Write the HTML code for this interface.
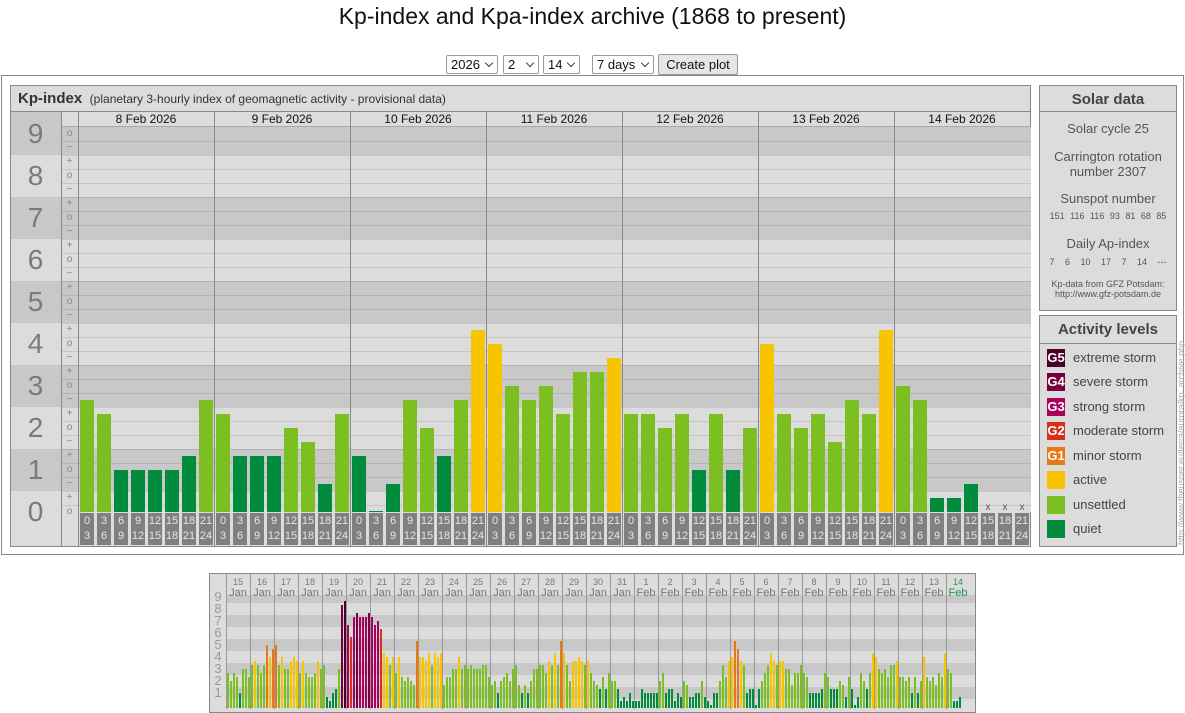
<!DOCTYPE html>
<html><head><meta charset="utf-8">
<style>
*{margin:0;padding:0;box-sizing:border-box}
body{width:1185px;height:709px;background:#fff;position:relative;overflow:hidden;font-family:"Liberation Sans",sans-serif;color:#222}
.a{position:absolute}
.sel{position:absolute;top:55px;height:19px;border:1px solid #999;border-radius:2px;background:#fff;font-size:13px;line-height:17px;padding-left:4px;color:#111}
.sel:after{content:"";position:absolute;right:5px;top:4px;width:5px;height:5px;border-right:1px solid #444;border-bottom:1px solid #444;transform:rotate(45deg)}
.lbl{position:absolute;width:15px;font-size:10px;color:#888;text-align:center;line-height:10px}
.big{position:absolute;left:10px;width:51px;text-align:center;font-size:28px;color:#7a7a7a;line-height:28px}
.tb{position:absolute;top:513px;width:14px;height:32px;background:#808080;color:#e6e6e6;font-size:11px;line-height:15px;text-align:center;padding-top:1px}
.date{position:absolute;top:112px;width:136px;text-align:center;font-size:12px;line-height:14px;color:#111}
.pt{position:absolute;left:1040px;width:136px;text-align:center;color:#555;font-size:13px}
.leg{position:absolute;left:1047px;width:18px;height:18px;color:#fff;font-size:13px;font-weight:bold;line-height:18px;text-align:center}
.lt{position:absolute;left:1073px;font-size:13px;color:#444;line-height:18px}
.md{position:absolute;top:576px;width:24px;text-align:center;color:#777;line-height:10px}
.mn{position:absolute;left:211px;width:14px;text-align:center;font-size:13px;color:#999;line-height:12px}
</style></head><body>
<div class="a" style="left:0;top:3px;width:1185px;text-align:center;font-size:23px;color:#111">Kp-index and Kpa-index archive (1868 to present)</div>
<div class="sel" style="left:446px;width:52px">2026</div>
<div class="sel" style="left:503px;width:36px">2</div>
<div class="sel" style="left:543px;width:37px">14</div>
<div class="sel" style="left:592px;width:62px">7 days</div>
<div class="a" style="left:658px;top:54px;width:80px;height:21px;border:1px solid #999;border-radius:2px;background:#e6e6e6;font-size:13px;line-height:19px;text-align:center;color:#111">Create plot</div>

<div class="a" style="left:1px;top:75px;width:1183px;height:480px;border:1px solid #888"></div>
<div id="main" class="a" style="left:10px;top:85px;width:1021px;height:462px;border:1px solid #888;background:#dcdcdc"></div>
<div id="plot"></div>
<div class="a" style="left:10px;top:111px;width:1021px;height:1px;background:#888"></div>
<div class="a" style="left:18px;top:90px;font-size:15px;font-weight:bold;color:#333">Kp-index <span style="font-weight:normal;font-size:12px;color:#333">&nbsp;(planetary 3-hourly index of geomagnetic activity - provisional data)</span></div>
<div class="a" style="left:61px;top:112px;width:1px;height:434px;background:#888"></div>
<div class="a" style="left:78px;top:112px;width:1px;height:434px;background:#888"></div>

<div class="date" style="left:78px">8 Feb 2026</div>
<div class="date" style="left:214px">9 Feb 2026</div>
<div class="date" style="left:350px">10 Feb 2026</div>
<div class="date" style="left:486px">11 Feb 2026</div>
<div class="date" style="left:622px">12 Feb 2026</div>
<div class="date" style="left:758px">13 Feb 2026</div>
<div class="date" style="left:894px">14 Feb 2026</div>

<div class="big" style="top:120px">9</div>
<div class="big" style="top:162px">8</div>
<div class="big" style="top:204px">7</div>
<div class="big" style="top:246px">6</div>
<div class="big" style="top:288px">5</div>
<div class="big" style="top:330px">4</div>
<div class="big" style="top:372px">3</div>
<div class="big" style="top:414px">2</div>
<div class="big" style="top:456px">1</div>
<div class="big" style="top:498px">0</div>

<div id="subs">
<div class="lbl" style="left:62px;top:129px">o</div><div class="lbl" style="left:62px;top:143px">−</div>
<div class="lbl" style="left:62px;top:157px">+</div><div class="lbl" style="left:62px;top:171px">o</div><div class="lbl" style="left:62px;top:185px">−</div>
<div class="lbl" style="left:62px;top:199px">+</div><div class="lbl" style="left:62px;top:213px">o</div><div class="lbl" style="left:62px;top:227px">−</div>
<div class="lbl" style="left:62px;top:241px">+</div><div class="lbl" style="left:62px;top:255px">o</div><div class="lbl" style="left:62px;top:269px">−</div>
<div class="lbl" style="left:62px;top:283px">+</div><div class="lbl" style="left:62px;top:297px">o</div><div class="lbl" style="left:62px;top:311px">−</div>
<div class="lbl" style="left:62px;top:325px">+</div><div class="lbl" style="left:62px;top:339px">o</div><div class="lbl" style="left:62px;top:353px">−</div>
<div class="lbl" style="left:62px;top:367px">+</div><div class="lbl" style="left:62px;top:381px">o</div><div class="lbl" style="left:62px;top:395px">−</div>
<div class="lbl" style="left:62px;top:409px">+</div><div class="lbl" style="left:62px;top:423px">o</div><div class="lbl" style="left:62px;top:437px">−</div>
<div class="lbl" style="left:62px;top:451px">+</div><div class="lbl" style="left:62px;top:465px">o</div><div class="lbl" style="left:62px;top:479px">−</div>
<div class="lbl" style="left:62px;top:493px">+</div><div class="lbl" style="left:62px;top:507px">o</div>
</div>

<div id="tbs">
<div class="tb" style="left:80px">0<br>3</div><div class="tb" style="left:97px">3<br>6</div><div class="tb" style="left:114px">6<br>9</div><div class="tb" style="left:131px">9<br>12</div><div class="tb" style="left:148px">12<br>15</div><div class="tb" style="left:165px">15<br>18</div><div class="tb" style="left:182px">18<br>21</div><div class="tb" style="left:199px">21<br>24</div>
<div class="tb" style="left:216px">0<br>3</div><div class="tb" style="left:233px">3<br>6</div><div class="tb" style="left:250px">6<br>9</div><div class="tb" style="left:267px">9<br>12</div><div class="tb" style="left:284px">12<br>15</div><div class="tb" style="left:301px">15<br>18</div><div class="tb" style="left:318px">18<br>21</div><div class="tb" style="left:335px">21<br>24</div>
<div class="tb" style="left:352px">0<br>3</div><div class="tb" style="left:369px">3<br>6</div><div class="tb" style="left:386px">6<br>9</div><div class="tb" style="left:403px">9<br>12</div><div class="tb" style="left:420px">12<br>15</div><div class="tb" style="left:437px">15<br>18</div><div class="tb" style="left:454px">18<br>21</div><div class="tb" style="left:471px">21<br>24</div>
<div class="tb" style="left:488px">0<br>3</div><div class="tb" style="left:505px">3<br>6</div><div class="tb" style="left:522px">6<br>9</div><div class="tb" style="left:539px">9<br>12</div><div class="tb" style="left:556px">12<br>15</div><div class="tb" style="left:573px">15<br>18</div><div class="tb" style="left:590px">18<br>21</div><div class="tb" style="left:607px">21<br>24</div>
<div class="tb" style="left:624px">0<br>3</div><div class="tb" style="left:641px">3<br>6</div><div class="tb" style="left:658px">6<br>9</div><div class="tb" style="left:675px">9<br>12</div><div class="tb" style="left:692px">12<br>15</div><div class="tb" style="left:709px">15<br>18</div><div class="tb" style="left:726px">18<br>21</div><div class="tb" style="left:743px">21<br>24</div>
<div class="tb" style="left:760px">0<br>3</div><div class="tb" style="left:777px">3<br>6</div><div class="tb" style="left:794px">6<br>9</div><div class="tb" style="left:811px">9<br>12</div><div class="tb" style="left:828px">12<br>15</div><div class="tb" style="left:845px">15<br>18</div><div class="tb" style="left:862px">18<br>21</div><div class="tb" style="left:879px">21<br>24</div>
<div class="tb" style="left:896px">0<br>3</div><div class="tb" style="left:913px">3<br>6</div><div class="tb" style="left:930px">6<br>9</div><div class="tb" style="left:947px">9<br>12</div><div class="tb" style="left:964px">12<br>15</div><div class="tb" style="left:981px">15<br>18</div><div class="tb" style="left:998px">18<br>21</div><div class="tb" style="left:1015px">21<br>24</div>
</div>
<div class="a" style="left:981px;top:502px;width:14px;text-align:center;font-size:10px;color:#555">x</div>
<div class="a" style="left:998px;top:502px;width:14px;text-align:center;font-size:10px;color:#555">x</div>
<div class="a" style="left:1015px;top:502px;width:14px;text-align:center;font-size:10px;color:#555">x</div>

<!-- Solar data -->
<div class="a" style="left:1039px;top:85px;width:138px;height:226px;border:1px solid #888;background:#dcdcdc"></div>
<div class="a" style="left:1039px;top:111px;width:138px;height:1px;background:#888"></div>
<div class="pt" style="top:91px;font-size:15px;font-weight:bold;color:#444">Solar data</div>
<div class="pt" style="top:121px">Solar cycle 25</div>
<div class="pt" style="top:149px;line-height:15px">Carrington rotation<br>number 2307</div>
<div class="pt" style="top:191px">Sunspot number</div>
<div class="pt" style="top:211px;font-size:9px;word-spacing:3px">151 116 116 93 81 68 85</div>
<div class="pt" style="top:236px">Daily Ap-index</div>
<div class="pt" style="top:257px;font-size:9px;word-spacing:8px">7 6 10 17 7 14 ---</div>
<div class="pt" style="top:279px;font-size:9px;line-height:10px">Kp-data from GFZ Potsdam:<br>http://www.gfz-potsdam.de</div>

<!-- Activity levels -->
<div class="a" style="left:1039px;top:315px;width:138px;height:232px;border:1px solid #888;background:#dcdcdc"></div>
<div class="a" style="left:1039px;top:343px;width:138px;height:1px;background:#888"></div>
<div class="pt" style="top:321px;font-size:15px;font-weight:bold;color:#444">Activity levels</div>
<div class="leg" style="top:349px;background:#4c0026">G5</div><div class="lt" style="top:349px">extreme storm</div>
<div class="leg" style="top:373px;background:#760040">G4</div><div class="lt" style="top:373px">severe storm</div>
<div class="leg" style="top:398px;background:#a8005c">G3</div><div class="lt" style="top:398px">strong storm</div>
<div class="leg" style="top:422px;background:#d6301c">G2</div><div class="lt" style="top:422px">moderate storm</div>
<div class="leg" style="top:447px;background:#e67818">G1</div><div class="lt" style="top:447px">minor storm</div>
<div class="leg" style="top:471px;background:#f8c400"></div><div class="lt" style="top:471px">active</div>
<div class="leg" style="top:496px;background:#7cbf22"></div><div class="lt" style="top:496px">unsettled</div>
<div class="leg" style="top:520px;background:#008c3c"></div><div class="lt" style="top:520px">quiet</div>
<div class="a" style="left:1176px;top:545px;transform-origin:0 0;transform:rotate(-90deg);font-size:9px;line-height:10px;color:#aaa;white-space:nowrap">http://www.theusner.eu/terra/aurora/kp_archive.php</div>

<!-- mini chart -->
<div class="a" style="left:209px;top:573px;width:767px;height:140px;border:1px solid #888;background:#dcdcdc"></div>
<div id="mini"></div>
<div class="mn" style="top:591px">9</div><div class="mn" style="top:603px">8</div><div class="mn" style="top:615px">7</div><div class="mn" style="top:627px">6</div><div class="mn" style="top:639px">5</div><div class="mn" style="top:651px">4</div><div class="mn" style="top:663px">3</div><div class="mn" style="top:675px">2</div><div class="mn" style="top:687px">1</div>
<div id="mdays">
<div class="md" style="left:226px"><span style="font-size:9px">15</span><br><span style="font-size:11px">Jan</span></div>
<div class="md" style="left:250px"><span style="font-size:9px">16</span><br><span style="font-size:11px">Jan</span></div>
<div class="md" style="left:274px"><span style="font-size:9px">17</span><br><span style="font-size:11px">Jan</span></div>
<div class="md" style="left:298px"><span style="font-size:9px">18</span><br><span style="font-size:11px">Jan</span></div>
<div class="md" style="left:322px"><span style="font-size:9px">19</span><br><span style="font-size:11px">Jan</span></div>
<div class="md" style="left:346px"><span style="font-size:9px">20</span><br><span style="font-size:11px">Jan</span></div>
<div class="md" style="left:370px"><span style="font-size:9px">21</span><br><span style="font-size:11px">Jan</span></div>
<div class="md" style="left:394px"><span style="font-size:9px">22</span><br><span style="font-size:11px">Jan</span></div>
<div class="md" style="left:418px"><span style="font-size:9px">23</span><br><span style="font-size:11px">Jan</span></div>
<div class="md" style="left:442px"><span style="font-size:9px">24</span><br><span style="font-size:11px">Jan</span></div>
<div class="md" style="left:466px"><span style="font-size:9px">25</span><br><span style="font-size:11px">Jan</span></div>
<div class="md" style="left:490px"><span style="font-size:9px">26</span><br><span style="font-size:11px">Jan</span></div>
<div class="md" style="left:514px"><span style="font-size:9px">27</span><br><span style="font-size:11px">Jan</span></div>
<div class="md" style="left:538px"><span style="font-size:9px">28</span><br><span style="font-size:11px">Jan</span></div>
<div class="md" style="left:562px"><span style="font-size:9px">29</span><br><span style="font-size:11px">Jan</span></div>
<div class="md" style="left:586px"><span style="font-size:9px">30</span><br><span style="font-size:11px">Jan</span></div>
<div class="md" style="left:610px"><span style="font-size:9px">31</span><br><span style="font-size:11px">Jan</span></div>
<div class="md" style="left:634px"><span style="font-size:9px">1</span><br><span style="font-size:11px">Feb</span></div>
<div class="md" style="left:658px"><span style="font-size:9px">2</span><br><span style="font-size:11px">Feb</span></div>
<div class="md" style="left:682px"><span style="font-size:9px">3</span><br><span style="font-size:11px">Feb</span></div>
<div class="md" style="left:706px"><span style="font-size:9px">4</span><br><span style="font-size:11px">Feb</span></div>
<div class="md" style="left:730px"><span style="font-size:9px">5</span><br><span style="font-size:11px">Feb</span></div>
<div class="md" style="left:754px"><span style="font-size:9px">6</span><br><span style="font-size:11px">Feb</span></div>
<div class="md" style="left:778px"><span style="font-size:9px">7</span><br><span style="font-size:11px">Feb</span></div>
<div class="md" style="left:802px"><span style="font-size:9px">8</span><br><span style="font-size:11px">Feb</span></div>
<div class="md" style="left:826px"><span style="font-size:9px">9</span><br><span style="font-size:11px">Feb</span></div>
<div class="md" style="left:850px"><span style="font-size:9px">10</span><br><span style="font-size:11px">Feb</span></div>
<div class="md" style="left:874px"><span style="font-size:9px">11</span><br><span style="font-size:11px">Feb</span></div>
<div class="md" style="left:898px"><span style="font-size:9px">12</span><br><span style="font-size:11px">Feb</span></div>
<div class="md" style="left:922px"><span style="font-size:9px">13</span><br><span style="font-size:11px">Feb</span></div>
<div class="md" style="left:946px;color:#1a9a4a"><span style="font-size:9px">14</span><br><span style="font-size:11px">Feb</span></div>
</div>

<script>
(function(){
function col(t){return t<=4?"#008c3c":t<=10?"#7cbf22":t<=13?"#f8c400":t<=16?"#e67818":t<=19?"#d6301c":t<=22?"#a8005c":t<=25?"#760040":"#4c0026";}
function R(p,x,y,w,h,c){var d=document.createElement("div");d.className="a";d.style.cssText="left:"+x+"px;top:"+y+"px;width:"+w+"px;height:"+h+"px;background:"+c;p.appendChild(d);}
var P=document.getElementById("plot"),B=511.7,S=14;
for(var N=0;N<=9;N++){var t=B-(3*N+1.5)*S,b=B-(3*N-1.5)*S;if(N==9)t=112;if(b>512)b=512;
 R(P,11,t,50,b-t,N%2?"#c8c8c8":"#dcdcdc");}
for(var N=0;N<=9;N++){var t=Math.max(126.7,B-(3*N+1.5)*S),b=Math.min(512,B-(3*N-1.5)*S);R(P,61,t,970,b-t,N%2?"#c8c8c8":"#dcdcdc");}
for(var k=0;k<27;k++){R(P,61,Math.round(B-(k+0.5)*S),970,1,"rgba(0,0,0,0.1)");}
R(P,61,126,970,1,"#aaa");
var D=[[8,7,3,3,3,3,4,8],[7,4,4,4,6,5,2,7],[4,0,2,8,6,4,8,13],[12,9,8,9,7,10,10,11],[7,7,6,7,3,7,3,6],[12,7,6,7,5,8,7,13],[9,8,1,1,2]];
for(var d=0;d<7;d++){for(var i=0;i<D[d].length;i++){var v=D[d][i],h=Math.max(1,v*S);R(P,78+d*136+2+i*17,B-h,14,h,col(v));}
 if(d>0)R(P,78+d*136,112,1,434,"#888");}
var M=document.getElementById("mini");
for(var N=0;N<=9;N++){var yc=705-12*N,t=Math.max(589,yc-6),b=Math.min(709,yc+6);R(M,210,t,765,b-t,N%2?"#c8c8c8":"#dcdcdc");}
R(M,210,574,765,21,"#dcdcdc");
R(M,210,574,16,135,"#dcdcdc");
var K=[[2.67,2,2.67,2.33,1,3,3,2.33],[3.33,3.67,3.33,2.67,3.33,5,4,4.67],[5,3.33,4,3,3,3.67,4,3.67],[2.67,3.67,2.67,2.33,2.33,2.67,3.67,3],
[3.33,0.67,0.33,1,1.33,3,8.33,8.67],[6.67,5.67,7.33,7.67,7.33,7.33,7.33,7.67],[7.33,6.67,7,6.33,4.33,4,3.33,4],[2.67,4,2.33,2,2.33,2,1.67,5.33],
[4,4,3.67,4.33,3.33,4.33,4,4.33],[1.67,2.33,2.33,3,3,4,3,3.33],[3,3.33,3,3,3,3.33,3.33,2.33],[1.67,2,1,2,2.33,2.67,2,3],
[3.33,1.67,1,1.67,1,2,3,3],[3.33,3.33,2.67,3.67,3.33,4.33,3.33,5.33],[4.33,3.33,2,3.67,3.67,4,3.67,3.33],[3.67,2.67,2,1.67,1.33,2.33,1.33,2.67],
[2,2,1.33,0.33,0.67,0.33,1,0.33],[0.33,0.33,1.33,1,1,1,1,1],[2,2.67,1,1.33,1.33,0.33,1,0.67],[2,1.67,0.67,0.67,1,1,2,0.67],
[0.33,0,1,1,2,3.33,2.33,3.67],[4,5.33,4.67,3.67,3.33,1,1.33,1.33],[0,1.33,2,2.67,3.33,4.33,3.67,3.33],[3.67,3.67,3,3,1.67,2.67,2.67,3.33]];
for(var d=24;d<31;d++){var a=[];for(var i=0;i<D[d-24].length;i++)a.push(D[d-24][i]/3);K.push(a);}
for(var d=0;d<31;d++){var x0=226+d*24;for(var i=0;i<K[d].length;i++){var kp=K[d][i],tt=Math.round(kp*3),yy=705-12*kp;R(M,x0+1+i*3,yy,2,Math.max(1,708-yy),col(tt));}
 R(M,x0,574,1,135,"#999");}
})();
</script>
</body></html>
